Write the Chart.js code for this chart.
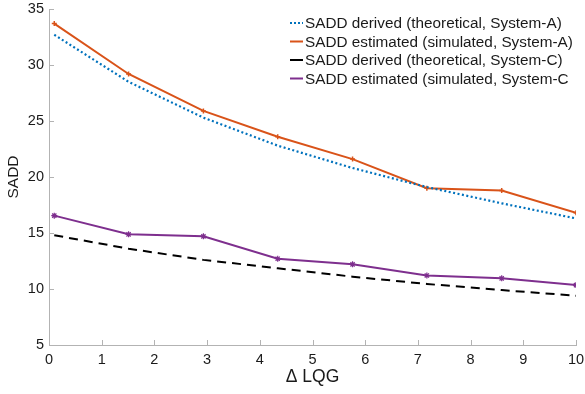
<!DOCTYPE html>
<html>
<head>
<meta charset="utf-8">
<script src="https://cdn.jsdelivr.net/npm/chart.js@4.4.1/dist/chart.umd.min.js"></script>
<style>
  html, body { margin: 0; padding: 0; background: #fff; }
  #wrap { width: 585px; height: 394px; }
</style>
</head>
<body>
<div id="wrap"><canvas id="sadd"></canvas></div>
<script>
const deltaLqg = [0.1, 1.51, 2.93, 4.34, 5.76, 7.17, 8.59, 10];

const derivedA = [32.7, 28.5, 25.3, 22.8, 20.8, 19.1, 17.65, 16.3];
const estimatedA = [33.7, 29.2, 25.9, 23.6, 21.6, 19.0, 18.8, 16.8];
const derivedC = [14.8, 13.6, 12.6, 11.85, 11.1, 10.45, 9.9, 9.4];
const estimatedC = [16.55, 14.88, 14.7, 12.7, 12.2, 11.2, 10.95, 10.35];

const seriesLabels = [
    'SADD derived (theoretical, System-A)',
    'SADD estimated (simulated, System-A)',
    'SADD derived (theoretical, System-C)',
    'SADD estimated (simulated, System-C',
];

const xTicks = [0, 1, 2, 3, 4, 5, 6, 7, 8, 9, 10];
const yTicks = [5, 10, 15, 20, 25, 30, 35];

const pts = ys => ys.map((y, i) => ({ x: deltaLqg[i], y: y }));

const axisGrey = '#b3b3b3';
const font = 'Liberation Sans, Arial, Helvetica, sans-serif';

// no label overhang padding, the plot box is fixed by layout.padding
const noOverhang = s => {
    s.paddingTop = 0;
    s.paddingBottom = 0;
    s.paddingLeft = 0;
    s.paddingRight = 0;
};

// inward MATLAB style ticks + legend inside the axes
const matlabBits = {
    id: 'matlabBits',
    afterDraw(chart) {
        const ctx = chart.ctx;
        const xs = chart.scales.x, ys = chart.scales.y;
        const area = chart.chartArea;
        ctx.save();
        ctx.strokeStyle = axisGrey;
        ctx.lineWidth = 1;
        ctx.beginPath();
        xTicks.forEach(v => {
            const px = Math.round(xs.getPixelForValue(v)) + 0.5;
            ctx.moveTo(px, area.bottom);
            ctx.lineTo(px, area.bottom - 5);
        });
        yTicks.forEach(v => {
            const py = Math.round(ys.getPixelForValue(v)) + 0.5;
            ctx.moveTo(area.left, py);
            ctx.lineTo(area.left + 5, py);
        });
        ctx.stroke();

        // legend
        const lx = 290, ly0 = 23, step = 18.5;
        ctx.font = '15.3px ' + font;
        ctx.textBaseline = 'middle';
        chart.data.datasets.forEach((ds, i) => {
            const y = ly0 + i * step;
            ctx.save();
            ctx.strokeStyle = ds.borderColor;
            ctx.lineWidth = ds.borderWidth;
            ctx.setLineDash(ds.legendDash || []);
            ctx.beginPath();
            ctx.moveTo(lx, y);
            ctx.lineTo(lx + 13, y);
            ctx.stroke();
            ctx.restore();
            ctx.fillStyle = '#1a1a1a';
            ctx.fillText(ds.label, lx + 15, y + 1);
        });
        ctx.restore();
    }
};

new Chart(document.getElementById('sadd'), {
    type: 'scatter',
    data: {
        datasets: [
            {
                label: seriesLabels[0],
                data: pts(derivedA),
                showLine: true,
                borderColor: '#0072BD',
                borderWidth: 2.2,
                borderDash: [2, 2.5],
                legendDash: [2, 2],
                pointRadius: 0,
            },
            {
                label: seriesLabels[1],
                data: pts(estimatedA),
                showLine: true,
                borderColor: '#D95319',
                backgroundColor: '#D95319',
                borderWidth: 2,
                pointStyle: 'cross',
                pointRadius: 2.5,
                pointBorderWidth: 1.5,
            },
            {
                label: seriesLabels[2],
                data: pts(derivedC),
                showLine: true,
                borderColor: '#000000',
                borderWidth: 2,
                borderDash: [9, 6],
                pointRadius: 0,
            },
            {
                label: seriesLabels[3],
                data: pts(estimatedC),
                showLine: true,
                borderColor: '#7E2F8E',
                backgroundColor: '#7E2F8E',
                borderWidth: 2,
                pointStyle: 'star',
                pointRadius: 3,
                pointBorderWidth: 1.2,
            },
        ]
    },
    options: {
        responsive: true,
        maintainAspectRatio: false,
        animation: false,
        layout: { padding: { top: 9, right: 9, left: 0, bottom: 0 } },
        plugins: {
            legend: { display: false },
            tooltip: { enabled: false },
        },
        scales: {
            x: {
                type: 'linear',
                min: 0,
                max: 10,
                afterBuildTicks: s => { s.ticks = xTicks.map(v => ({ value: v })); },
                afterFit: s => { s.height = 49; noOverhang(s); },
                grid: { display: false, drawTicks: false },
                border: { color: axisGrey, width: 1 },
                ticks: { color: '#1a1a1a', font: { family: font, size: 14.5 }, padding: 6, maxRotation: 0 },
                title: {
                    display: true,
                    text: '\u0394 LQG',
                    color: '#1a1a1a',
                    font: { family: font, size: 17.5 },
                    padding: { top: 0, bottom: 6 },
                },
            },
            y: {
                min: 5,
                max: 35,
                afterBuildTicks: s => { s.ticks = yTicks.map(v => ({ value: v })); },
                afterFit: s => { s.width = 49; noOverhang(s); },
                grid: { display: false, drawTicks: false },
                border: { color: axisGrey, width: 1 },
                ticks: { color: '#1a1a1a', font: { family: font, size: 14.5 }, padding: 5 },
                title: {
                    display: true,
                    text: 'SADD',
                    color: '#1a1a1a',
                    font: { family: font, size: 15.5 },
                    padding: { top: 4, bottom: 0 },
                },
            },
        },
    },
    plugins: [matlabBits],
});
</script>
</body>
</html>
